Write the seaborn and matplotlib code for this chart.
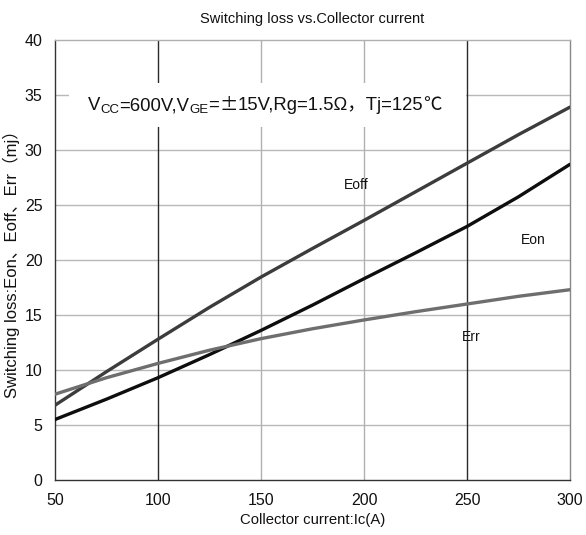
import matplotlib
matplotlib.use("Agg")
import matplotlib.pyplot as plt
import matplotlib.patches as mpatches
import numpy as np
import pandas as pd
import seaborn as sns

# Collector current (A) and switching energies (mJ)
current = [50, 75, 100, 125, 150, 175, 200, 225, 250, 275, 300]
eoff = [6.8, 9.85, 12.8, 15.7, 18.45, 21.05, 23.6, 26.2, 28.8, 31.4, 33.9]
eon = [5.5, 7.35, 9.3, 11.4, 13.6, 15.9, 18.3, 20.65, 23.05, 25.75, 28.7]
err = [7.8, 9.3, 10.6, 11.8, 12.85, 13.75, 14.55, 15.3, 16.0, 16.7, 17.3]

series_names = ["Eoff", "Eon", "Err"]
series_colors = {"Eoff": "#3c3c3c", "Eon": "#0e0e0e", "Err": "#6e6e6e"}

x_ticks = [50, 100, 150, 200, 250, 300]
y_ticks = [0, 5, 10, 15, 20, 25, 30, 35, 40]

df = pd.DataFrame({
    "Ic": current * 3,
    "E": eoff + eon + err,
    "curve": ["Eoff"] * len(current) + ["Eon"] * len(current) + ["Err"] * len(current),
})

sns.set_style("white")
fams = ["Liberation Sans", "Noto Sans CJK SC", "DejaVu Sans"]
cjk = ["Noto Sans CJK SC", "DejaVu Sans"]
plt.rcParams["font.family"] = fams

fig = plt.figure(figsize=(5.86, 5.35), dpi=100)
ax = fig.add_axes([0.0939, 0.1028, 0.8788, 0.8224])

sns.lineplot(data=df, x="Ic", y="E", hue="curve", hue_order=series_names,
             palette=series_colors, linewidth=2.4, legend=False, ax=ax,
             zorder=5)

ax.set_xlim(50, 300)
ax.set_ylim(0, 40)
ax.set_xticks(x_ticks)
ax.set_yticks(y_ticks)
ax.tick_params(axis="both", length=0, labelsize=11.5, colors="#111111")
ax.tick_params(axis="y", pad=9)
ax.tick_params(axis="x", pad=9)

# grid: light horizontals, mixed verticals
for yv in y_ticks[1:-1]:
    ax.axhline(yv, color="#b8b8b8", lw=1.0, zorder=1)
for xv in x_ticks[1:-1]:
    c = "#2a2a2a" if xv in (100, 250) else "#b0b0b0"
    ax.axvline(xv, color=c, lw=1.0, zorder=1)

# frame
ax.spines["left"].set_color("#333333")
ax.spines["bottom"].set_color("#333333")
ax.spines["top"].set_color("#b0b0b0")
ax.spines["right"].set_color("#888888")
for s in ax.spines.values():
    s.set_linewidth(1.0)

# white backing behind the test condition text
ax.add_patch(mpatches.Rectangle((57, 32.1), 192.3, 4.0, facecolor="white",
                                edgecolor="none", zorder=2))

# test condition text with subscripts: (text, subscript?, font family)
fs = 13.3
fs_sub = 9.5
pieces = [("V", False, fams), ("CC", True, fams), ("=600V,V", False, fams),
          ("GE", True, fams), ("=", False, fams), ("±", False, cjk),
          ("15V,Rg=1.5Ω，Tj=125", False, fams), ("℃", False, cjk)]
prev_main = ax.text(66, 33.25, pieces[0][0], fontsize=fs, family=fams,
                    va="bottom", ha="left", color="#111111", zorder=6)
prev_any = prev_main
for txt, sub, fam in pieces[1:]:
    if sub:
        t = ax.annotate(txt, xy=(1, 0), xycoords=prev_any, xytext=(0, -1.5),
                        textcoords="offset points", fontsize=fs_sub,
                        family=fam, va="bottom", ha="left",
                        color="#111111", zorder=6)
    else:
        t = ax.annotate(txt, xy=(1, 0), xycoords=(prev_any, prev_main),
                        fontsize=fs, family=fam, va="bottom", ha="left",
                        color="#111111", zorder=6)
        prev_main = t
    prev_any = t

# curve labels
ax.text(196, 26.8, "Eoff", fontsize=10, ha="center", va="center", color="#111111")
ax.text(282, 21.8, "Eon", fontsize=10, ha="center", va="center", color="#111111")
ax.text(252, 13.0, "Err", fontsize=10, ha="center", va="center", color="#111111")

ax.set_title("Switching loss vs.Collector current", fontsize=10.5, pad=12,
             color="#111111")
ax.set_xlabel("Collector current:Ic(A)", fontsize=10.7, labelpad=4,
              color="#111111")
ax.set_ylabel("Switching loss:Eon、Eoff、Err（mj）", fontsize=12,
              labelpad=3, color="#111111")

fig.savefig("out.png", dpi=100)
